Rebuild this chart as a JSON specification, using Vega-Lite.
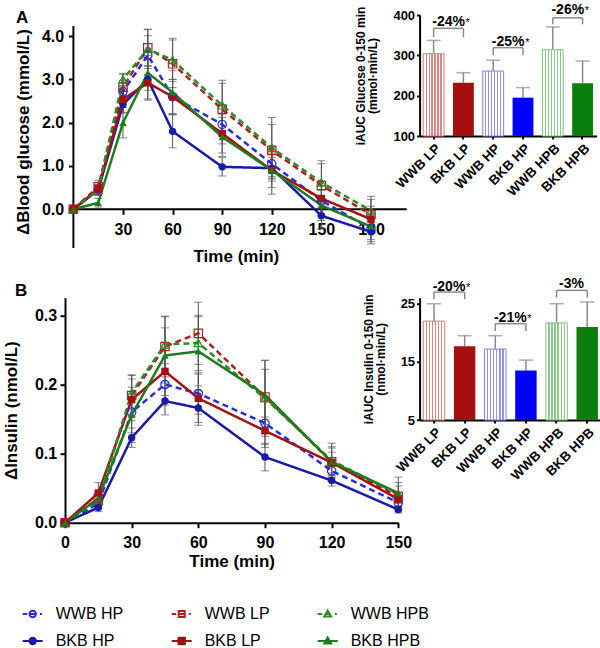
{
"$schema":"https://vega.github.io/schema/vega-lite/v6.json",
"padding":{"left":2,"top":2,"right":0,"bottom":0},
"datasets":{
"glucose":[
{"g":"WWB HP","t":0,"y":0,"lo":null,"hi":null},{"g":"WWB HP","t":15,"y":0.45,"lo":0.33,"hi":0.57},{"g":"WWB HP","t":30,"y":2.72,"lo":2.47,"hi":2.97},{"g":"WWB HP","t":45,"y":3.56,"lo":3.11,"hi":4.01},{"g":"WWB HP","t":60,"y":2.6,"lo":2.2,"hi":3.0},{"g":"WWB HP","t":90,"y":1.96,"lo":1.51,"hi":2.41},{"g":"WWB HP","t":120,"y":1.05,"lo":0.65,"hi":1.45},{"g":"WWB HP","t":150,"y":0.2,"lo":-0.15,"hi":0.55},{"g":"WWB HP","t":180,"y":-0.45,"lo":-0.75,"hi":-0.15},
{"g":"BKB HP","t":0,"y":0,"lo":null,"hi":null},{"g":"BKB HP","t":15,"y":0.45,"lo":0.35,"hi":0.55},{"g":"BKB HP","t":30,"y":2.42,"lo":2.22,"hi":2.62},{"g":"BKB HP","t":45,"y":3.0,"lo":2.55,"hi":3.45},{"g":"BKB HP","t":60,"y":1.8,"lo":1.42,"hi":2.18},{"g":"BKB HP","t":90,"y":0.98,"lo":0.77,"hi":1.19},{"g":"BKB HP","t":120,"y":0.95,"lo":0.7,"hi":1.2},{"g":"BKB HP","t":150,"y":-0.15,"lo":-0.45,"hi":0.15},{"g":"BKB HP","t":180,"y":-0.52,"lo":-0.8,"hi":-0.24},
{"g":"WWB LP","t":0,"y":0,"lo":null,"hi":null},{"g":"WWB LP","t":15,"y":0.52,"lo":0.37,"hi":0.67},{"g":"WWB LP","t":30,"y":2.82,"lo":2.52,"hi":3.12},{"g":"WWB LP","t":45,"y":3.73,"lo":3.3,"hi":4.16},{"g":"WWB LP","t":60,"y":3.36,"lo":2.81,"hi":3.91},{"g":"WWB LP","t":90,"y":2.31,"lo":1.71,"hi":2.91},{"g":"WWB LP","t":120,"y":1.36,"lo":0.76,"hi":1.96},{"g":"WWB LP","t":150,"y":0.55,"lo":0.05,"hi":1.05},{"g":"WWB LP","t":180,"y":-0.12,"lo":-0.47,"hi":0.23},
{"g":"BKB LP","t":0,"y":0,"lo":null,"hi":null},{"g":"BKB LP","t":15,"y":0.47,"lo":0.32,"hi":0.62},{"g":"BKB LP","t":30,"y":2.54,"lo":2.24,"hi":2.84},{"g":"BKB LP","t":45,"y":2.92,"lo":2.52,"hi":3.32},{"g":"BKB LP","t":60,"y":2.6,"lo":2.2,"hi":3.0},{"g":"BKB LP","t":90,"y":1.75,"lo":1.3,"hi":2.2},{"g":"BKB LP","t":120,"y":0.9,"lo":0.35,"hi":1.45},{"g":"BKB LP","t":150,"y":0.25,"lo":-0.15,"hi":0.65},{"g":"BKB LP","t":180,"y":-0.23,"lo":-0.53,"hi":0.07},
{"g":"WWB HPB","t":0,"y":0,"lo":null,"hi":null},{"g":"WWB HPB","t":15,"y":0.45,"lo":0.33,"hi":0.57},{"g":"WWB HPB","t":30,"y":3.0,"lo":2.86,"hi":3.14},{"g":"WWB HPB","t":45,"y":3.7,"lo":3.25,"hi":4.15},{"g":"WWB HPB","t":60,"y":3.45,"lo":2.95,"hi":3.95},{"g":"WWB HPB","t":90,"y":2.4,"lo":1.82,"hi":2.98},{"g":"WWB HPB","t":120,"y":1.42,"lo":0.72,"hi":2.12},{"g":"WWB HPB","t":150,"y":0.62,"lo":0.12,"hi":1.12},{"g":"WWB HPB","t":180,"y":-0.03,"lo":-0.36,"hi":0.3},
{"g":"BKB HPB","t":0,"y":0,"lo":null,"hi":null},{"g":"BKB HPB","t":15,"y":0.15,"lo":0.05,"hi":0.25},{"g":"BKB HPB","t":30,"y":2.0,"lo":1.65,"hi":2.35},{"g":"BKB HPB","t":45,"y":3.15,"lo":2.75,"hi":3.55},{"g":"BKB HPB","t":60,"y":2.7,"lo":2.2,"hi":3.2},{"g":"BKB HPB","t":90,"y":1.67,"lo":1.22,"hi":2.12},{"g":"BKB HPB","t":120,"y":0.9,"lo":0.5,"hi":1.3},{"g":"BKB HPB","t":150,"y":0.09,"lo":-0.26,"hi":0.44},{"g":"BKB HPB","t":180,"y":-0.4,"lo":-0.7,"hi":-0.1}
],
"insulin":[
{"g":"WWB HP","t":0,"y":0,"lo":null,"hi":null},{"g":"WWB HP","t":15,"y":0.028,"lo":0.02,"hi":0.036},{"g":"WWB HP","t":30,"y":0.16,"lo":0.13,"hi":0.19},{"g":"WWB HP","t":45,"y":0.2,"lo":0.17,"hi":0.23},{"g":"WWB HP","t":60,"y":0.187,"lo":0.157,"hi":0.217},{"g":"WWB HP","t":90,"y":0.144,"lo":0.109,"hi":0.179},{"g":"WWB HP","t":120,"y":0.075,"lo":0.06,"hi":0.09},{"g":"WWB HP","t":150,"y":0.029,"lo":0.019,"hi":0.039},
{"g":"BKB HP","t":0,"y":0,"lo":null,"hi":null},{"g":"BKB HP","t":15,"y":0.022,"lo":0.016,"hi":0.028},{"g":"BKB HP","t":30,"y":0.123,"lo":0.109,"hi":0.137},{"g":"BKB HP","t":45,"y":0.176,"lo":0.156,"hi":0.196},{"g":"BKB HP","t":60,"y":0.166,"lo":0.141,"hi":0.191},{"g":"BKB HP","t":90,"y":0.095,"lo":0.075,"hi":0.115},{"g":"BKB HP","t":120,"y":0.061,"lo":0.053,"hi":0.069},{"g":"BKB HP","t":150,"y":0.019,"lo":0.014,"hi":0.024},
{"g":"WWB LP","t":0,"y":0,"lo":null,"hi":null},{"g":"WWB LP","t":15,"y":0.035,"lo":0.025,"hi":0.045},{"g":"WWB LP","t":30,"y":0.184,"lo":0.154,"hi":0.214},{"g":"WWB LP","t":45,"y":0.255,"lo":0.211,"hi":0.299},{"g":"WWB LP","t":60,"y":0.274,"lo":0.229,"hi":0.319},{"g":"WWB LP","t":90,"y":0.182,"lo":0.142,"hi":0.222},{"g":"WWB LP","t":120,"y":0.088,"lo":0.066,"hi":0.11},{"g":"WWB LP","t":150,"y":0.038,"lo":0.023,"hi":0.053},
{"g":"BKB LP","t":0,"y":0,"lo":null,"hi":null},{"g":"BKB LP","t":15,"y":0.043,"lo":0.028,"hi":0.058},{"g":"BKB LP","t":30,"y":0.178,"lo":0.148,"hi":0.208},{"g":"BKB LP","t":45,"y":0.219,"lo":0.184,"hi":0.254},{"g":"BKB LP","t":60,"y":0.18,"lo":0.145,"hi":0.215},{"g":"BKB LP","t":90,"y":0.133,"lo":0.113,"hi":0.153},{"g":"BKB LP","t":120,"y":0.087,"lo":0.072,"hi":0.102},{"g":"BKB LP","t":150,"y":0.034,"lo":0.024,"hi":0.044},
{"g":"WWB HPB","t":0,"y":0,"lo":null,"hi":null},{"g":"WWB HPB","t":15,"y":0.032,"lo":0.022,"hi":0.042},{"g":"WWB HPB","t":30,"y":0.188,"lo":0.163,"hi":0.213},{"g":"WWB HPB","t":45,"y":0.258,"lo":0.218,"hi":0.298},{"g":"WWB HPB","t":60,"y":0.26,"lo":0.22,"hi":0.3},{"g":"WWB HPB","t":90,"y":0.18,"lo":0.125,"hi":0.235},{"g":"WWB HPB","t":120,"y":0.09,"lo":0.065,"hi":0.115},{"g":"WWB HPB","t":150,"y":0.041,"lo":0.016,"hi":0.066},
{"g":"BKB HPB","t":0,"y":0,"lo":null,"hi":null},{"g":"BKB HPB","t":15,"y":0.035,"lo":0.025,"hi":0.045},{"g":"BKB HPB","t":30,"y":0.156,"lo":0.116,"hi":0.196},{"g":"BKB HPB","t":45,"y":0.242,"lo":0.202,"hi":0.282},{"g":"BKB HPB","t":60,"y":0.248,"lo":0.198,"hi":0.298},{"g":"BKB HPB","t":90,"y":0.185,"lo":0.135,"hi":0.235},{"g":"BKB HPB","t":120,"y":0.088,"lo":0.068,"hi":0.108},{"g":"BKB HPB","t":150,"y":0.043,"lo":0.028,"hi":0.058}
],
"barsA":[{"g":"WWB LP","v":304,"hi":337},{"g":"BKB LP","v":232,"hi":257},{"g":"WWB HP","v":261,"hi":288},{"g":"BKB HP","v":195,"hi":220},{"g":"WWB HPB","v":314,"hi":370},{"g":"BKB HPB","v":231,"hi":286}],
"barsB":[{"g":"WWB LP","v":22.0,"hi":25.0},{"g":"BKB LP","v":17.7,"hi":19.5},{"g":"WWB HP","v":17.2,"hi":19.5},{"g":"BKB HP","v":13.5,"hi":15.3},{"g":"WWB HPB","v":21.7,"hi":25.0},{"g":"BKB HPB","v":21.0,"hi":25.3}],
"bracketsA":[{"a":"WWB LP","b":"BKB LP","top":367,"leg":345,"ty":372,"lab":"-24%","star":"*"},{"a":"WWB HP","b":"BKB HP","top":319,"leg":300,"ty":323,"lab":"-25%","star":"*"},{"a":"WWB HPB","b":"BKB HPB","top":393,"leg":377,"ty":403,"lab":"-26%","star":"*"}],
"bracketsB":[{"a":"WWB LP","b":"BKB LP","top":27.0,"leg":25.76,"ty":27.25,"lab":"-20%","star":"*"},{"a":"WWB HP","b":"BKB HP","top":21.56,"leg":20.3,"ty":21.85,"lab":"-21%","star":"*"},{"a":"WWB HPB","b":"BKB HPB","top":27.3,"leg":26.03,"ty":27.75,"lab":"-3%","star":""}]
},
"columns":2,
"bounds":"flush",
"align":{"row":"each","column":"none"},
"spacing":{"row":49.7,"column":12.6},
"resolve":{"scale":{"color":"independent","shape":"independent","fill":"independent","stroke":"independent","strokeDash":"independent"}},
"concat":[
{"width":341.7,"height":233,
"title":{"text":"A","anchor":"start","frame":"group","dx":-49,"offset":-24.5,"fontSize":17,"fontWeight":"bold","baseline":"alphabetic"},
"data":{"name":"glucose"},
"layer":[
{"data":{"values":[{}]},"mark":{"type":"rule","color":"black","strokeWidth":2},"encoding":{"x":{"datum":0,"type":"quantitative"},"y":{"datum":-0.894,"type":"quantitative"},"y2":{"datum":4.23}}},
{"data":{"values":[{}]},"mark":{"type":"rule","color":"black","strokeWidth":2},"encoding":{"x":{"datum":0,"type":"quantitative"},"x2":{"datum":201.6},"y":{"datum":0,"type":"quantitative"}}},
{"mark":{"type":"errorbar","ticks":{"size":8,"thickness":1,"color":"#555555"},"rule":{"strokeWidth":1,"color":"#555555"}},
"encoding":{"x":{"field":"t","type":"quantitative","scale":{"domain":[-5.08,201.6],"nice":false,"zero":false},"axis":{"values":[30,60,90,120,150,180],"offset":-38.7,"domain":false,"labelFontSize":16,"titleFontSize":17,"tickSize":5,"labelPadding":7,"titlePadding":11,"labelFlush":false},"title":"Time (min)"},
"y":{"field":"lo","type":"quantitative","scale":{"domain":[-0.894,4.487],"nice":false,"zero":false},"axis":{"values":[0,1,2,3,4],"format":".1f","domain":false,"offset":-8.4,"labelFontSize":16,"titleFontSize":17,"tickSize":5,"labelPadding":4.7,"titlePadding":9},"title":"ΔBlood glucose (mmol/L)"},
"y2":{"field":"hi"}}},
{"mark":{"type":"line","strokeWidth":2.5},
"encoding":{"x":{"field":"t","type":"quantitative","title":"Time (min)"},"y":{"field":"y","type":"quantitative","title":"ΔBlood glucose (mmol/L)"},
"color":{"field":"g","type":"nominal","scale":{"domain":["WWB HP","BKB HP","WWB LP","BKB LP","WWB HPB","BKB HPB"],"range":["#2b2bd6","#1a1aa6","#b01e1e","#a31212","#2a8c2a","#1d7d1d"]},"legend":null},
"strokeDash":{"field":"g","type":"nominal","scale":{"domain":["WWB HP","BKB HP","WWB LP","BKB LP","WWB HPB","BKB HPB"],"range":[[6,4],[1,0],[6,4],[1,0],[6,4],[1,0]]},"legend":null}}},
{"transform":[{"filter":"indexof(datum.g,'WWB')==0"}],"mark":{"type":"point","filled":false,"strokeWidth":1.2,"size":70,"opacity":1},
"encoding":{"x":{"field":"t","type":"quantitative","title":"Time (min)"},"y":{"field":"y","type":"quantitative","title":"ΔBlood glucose (mmol/L)"},
"color":{"field":"g","type":"nominal","legend":null},
"shape":{"field":"g","type":"nominal","scale":{"domain":["WWB HP","BKB HP","WWB LP","BKB LP","WWB HPB","BKB HPB"],"range":["circle","circle","square","square","triangle-up","triangle-up"]},"legend":null}}},
{"transform":[{"filter":"indexof(datum.g,'BKB')==0"}],"mark":{"type":"point","filled":true,"size":55,"opacity":1},
"encoding":{"x":{"field":"t","type":"quantitative","title":"Time (min)"},"y":{"field":"y","type":"quantitative","title":"ΔBlood glucose (mmol/L)"},
"color":{"field":"g","type":"nominal","legend":null},
"shape":{"field":"g","type":"nominal","legend":null}}}
]},
{"width":177,"height":121,
"layer":[
{"data":{"name":"barsA"},"mark":{"type":"rule","color":"#8a8a8a","strokeWidth":1.5},
"encoding":{"x":{"field":"g","type":"nominal","scale":{"domain":["WWB LP","BKB LP","WWB HP","BKB HP","WWB HPB","BKB HPB"],"paddingInner":0.3,"paddingOuter":0.12},"axis":{"labelAngle":-45,"labelFontSize":13.5,"tickSize":3,"labelPadding":2},"title":null},
"y":{"field":"v","type":"quantitative","scale":{"domain":[100,400],"nice":false,"zero":false},"axis":{"values":[100,200,300,400],"labelFontSize":13,"titleFontSize":12,"tickSize":3,"labelPadding":2,"titlePadding":13,"titleLineHeight":12},"title":["iAUC Glucose 0-150 min","(mmol·min/L)"]},
"y2":{"field":"hi"}}},
{"data":{"name":"barsA"},"mark":{"type":"tick","color":"#8a8a8a","thickness":1.5,"size":14},
"encoding":{"x":{"field":"g","type":"nominal","title":null},"y":{"field":"hi","type":"quantitative","title":["iAUC Glucose 0-150 min","(mmol·min/L)"]}}},
{"data":{"name":"barsA"},"transform":[{"filter":"indexof(datum.g,'BKB')==0"}],"mark":{"type":"bar"},
"encoding":{"x":{"field":"g","type":"nominal","title":null},"y":{"field":"v","type":"quantitative","title":["iAUC Glucose 0-150 min","(mmol·min/L)"]},"y2":{"datum":100},
"fill":{"field":"g","type":"nominal","scale":{"domain":["BKB LP","BKB HP","BKB HPB"],"range":["#a50f0f","#0000ff","#0b7f0b"]},"legend":null}}},
{"data":{"name":"barsA"},"transform":[{"filter":"datum.g=='WWB LP'"}],"mark":{"type":"bar","stroke":"#d87878","strokeWidth":1,"fill":{"gradient":"linear","x1":0,"y1":0,"x2":1,"y2":0,"stops":[{"offset":0,"color":"#ffffff"},{"offset":0.113,"color":"#ffffff"},{"offset":0.113,"color":"#d98888"},{"offset":0.173,"color":"#d98888"},{"offset":0.173,"color":"#ffffff"},{"offset":0.256,"color":"#ffffff"},{"offset":0.256,"color":"#d98888"},{"offset":0.316,"color":"#d98888"},{"offset":0.316,"color":"#ffffff"},{"offset":0.399,"color":"#ffffff"},{"offset":0.399,"color":"#d98888"},{"offset":0.459,"color":"#d98888"},{"offset":0.459,"color":"#ffffff"},{"offset":0.541,"color":"#ffffff"},{"offset":0.541,"color":"#d98888"},{"offset":0.601,"color":"#d98888"},{"offset":0.601,"color":"#ffffff"},{"offset":0.684,"color":"#ffffff"},{"offset":0.684,"color":"#d98888"},{"offset":0.744,"color":"#d98888"},{"offset":0.744,"color":"#ffffff"},{"offset":0.827,"color":"#ffffff"},{"offset":0.827,"color":"#d98888"},{"offset":0.887,"color":"#d98888"},{"offset":0.887,"color":"#ffffff"},{"offset":1,"color":"#ffffff"}]}},
"encoding":{"x":{"field":"g","type":"nominal","title":null},"y":{"field":"v","type":"quantitative","title":["iAUC Glucose 0-150 min","(mmol·min/L)"]},"y2":{"datum":100}}},
{"data":{"name":"barsA"},"transform":[{"filter":"datum.g=='WWB HP'"}],"mark":{"type":"bar","stroke":"#8282e8","strokeWidth":1,"fill":{"gradient":"linear","x1":0,"y1":0,"x2":1,"y2":0,"stops":[{"offset":0,"color":"#ffffff"},{"offset":0.113,"color":"#ffffff"},{"offset":0.113,"color":"#9494ee"},{"offset":0.173,"color":"#9494ee"},{"offset":0.173,"color":"#ffffff"},{"offset":0.256,"color":"#ffffff"},{"offset":0.256,"color":"#9494ee"},{"offset":0.316,"color":"#9494ee"},{"offset":0.316,"color":"#ffffff"},{"offset":0.399,"color":"#ffffff"},{"offset":0.399,"color":"#9494ee"},{"offset":0.459,"color":"#9494ee"},{"offset":0.459,"color":"#ffffff"},{"offset":0.541,"color":"#ffffff"},{"offset":0.541,"color":"#9494ee"},{"offset":0.601,"color":"#9494ee"},{"offset":0.601,"color":"#ffffff"},{"offset":0.684,"color":"#ffffff"},{"offset":0.684,"color":"#9494ee"},{"offset":0.744,"color":"#9494ee"},{"offset":0.744,"color":"#ffffff"},{"offset":0.827,"color":"#ffffff"},{"offset":0.827,"color":"#9494ee"},{"offset":0.887,"color":"#9494ee"},{"offset":0.887,"color":"#ffffff"},{"offset":1,"color":"#ffffff"}]}},
"encoding":{"x":{"field":"g","type":"nominal","title":null},"y":{"field":"v","type":"quantitative","title":["iAUC Glucose 0-150 min","(mmol·min/L)"]},"y2":{"datum":100}}},
{"data":{"name":"barsA"},"transform":[{"filter":"datum.g=='WWB HPB'"}],"mark":{"type":"bar","stroke":"#80c080","strokeWidth":1,"fill":{"gradient":"linear","x1":0,"y1":0,"x2":1,"y2":0,"stops":[{"offset":0,"color":"#ffffff"},{"offset":0.113,"color":"#ffffff"},{"offset":0.113,"color":"#8fc78f"},{"offset":0.173,"color":"#8fc78f"},{"offset":0.173,"color":"#ffffff"},{"offset":0.256,"color":"#ffffff"},{"offset":0.256,"color":"#8fc78f"},{"offset":0.316,"color":"#8fc78f"},{"offset":0.316,"color":"#ffffff"},{"offset":0.399,"color":"#ffffff"},{"offset":0.399,"color":"#8fc78f"},{"offset":0.459,"color":"#8fc78f"},{"offset":0.459,"color":"#ffffff"},{"offset":0.541,"color":"#ffffff"},{"offset":0.541,"color":"#8fc78f"},{"offset":0.601,"color":"#8fc78f"},{"offset":0.601,"color":"#ffffff"},{"offset":0.684,"color":"#ffffff"},{"offset":0.684,"color":"#8fc78f"},{"offset":0.744,"color":"#8fc78f"},{"offset":0.744,"color":"#ffffff"},{"offset":0.827,"color":"#ffffff"},{"offset":0.827,"color":"#8fc78f"},{"offset":0.887,"color":"#8fc78f"},{"offset":0.887,"color":"#ffffff"},{"offset":1,"color":"#ffffff"}]}},
"encoding":{"x":{"field":"g","type":"nominal","title":null},"y":{"field":"v","type":"quantitative","title":["iAUC Glucose 0-150 min","(mmol·min/L)"]},"y2":{"datum":100}}},
{"data":{"name":"bracketsA"},"mark":{"type":"rule","color":"#8a8a8a","strokeWidth":1.5},
"encoding":{"x":{"field":"a","type":"nominal","title":null},"x2":{"field":"b"},"y":{"field":"top","type":"quantitative","title":["iAUC Glucose 0-150 min","(mmol·min/L)"]}}},
{"data":{"name":"bracketsA"},"mark":{"type":"rule","color":"#8a8a8a","strokeWidth":1.5},
"encoding":{"x":{"field":"a","type":"nominal","title":null},"y":{"field":"top","type":"quantitative","title":["iAUC Glucose 0-150 min","(mmol·min/L)"]},"y2":{"field":"leg"}}},
{"data":{"name":"bracketsA"},"mark":{"type":"rule","color":"#8a8a8a","strokeWidth":1.5},
"encoding":{"x":{"field":"b","type":"nominal","title":null},"y":{"field":"top","type":"quantitative","title":["iAUC Glucose 0-150 min","(mmol·min/L)"]},"y2":{"field":"leg"}}},
{"data":{"name":"bracketsA"},"mark":{"type":"text","fontSize":14,"fontWeight":"bold","align":"center","baseline":"alphabetic","dx":15,"color":"black"},
"encoding":{"x":{"field":"a","type":"nominal","title":null},"y":{"field":"ty","type":"quantitative","title":["iAUC Glucose 0-150 min","(mmol·min/L)"]},"text":{"field":"lab"}}},
{"data":{"name":"bracketsA"},"mark":{"type":"text","fontSize":11,"align":"left","baseline":"alphabetic","dx":32,"color":"black"},
"encoding":{"x":{"field":"a","type":"nominal","title":null},"y":{"field":"ty","type":"quantitative","title":["iAUC Glucose 0-150 min","(mmol·min/L)"]},"text":{"field":"star"}}}
]},
{"width":333.3,"height":225,
"title":{"text":"B","anchor":"start","frame":"group","dx":-50,"offset":-15.6,"fontSize":17,"fontWeight":"bold","baseline":"alphabetic"},
"data":{"name":"insulin"},
"encoding":{"x":{"field":"t","type":"quantitative","title":"Time (min)"},"y":{"field":"y","type":"quantitative","title":"ΔInsulin (nmol/L)"},
"color":{"field":"g","type":"nominal","scale":{"domain":["WWB HP","BKB HP","WWB LP","BKB LP","WWB HPB","BKB HPB"],"range":["#2b2bd6","#1a1aa6","#b01e1e","#a31212","#2a8c2a","#1d7d1d"]},"legend":null}},
"layer":[
{"mark":{"type":"errorbar","ticks":{"size":8,"thickness":1,"color":"#555555"},"rule":{"strokeWidth":1,"color":"#555555"}},
"encoding":{"x":{"field":"t","type":"quantitative","scale":{"domain":[0,150],"nice":false,"zero":false},"axis":{"values":[0,30,60,90,120,150],"labelFontSize":16,"titleFontSize":17,"tickSize":5,"labelPadding":7,"titlePadding":3,"labelFlush":false},"title":"Time (min)"},
"y":{"field":"lo","type":"quantitative","scale":{"domain":[0,0.3256],"nice":false,"zero":false},"axis":{"values":[0,0.1,0.2,0.3],"format":".1f","labelFontSize":16,"titleFontSize":17,"tickSize":5,"labelPadding":3.3,"titlePadding":13.7},"title":"ΔInsulin (nmol/L)"},
"y2":{"field":"hi"},"color":null}},
{"mark":{"type":"line","strokeWidth":2.5},
"encoding":{"strokeDash":{"field":"g","type":"nominal","scale":{"domain":["WWB HP","BKB HP","WWB LP","BKB LP","WWB HPB","BKB HPB"],"range":[[6,4],[1,0],[6,4],[1,0],[6,4],[1,0]]},"legend":null}}},
{"transform":[{"filter":"datum.g=='WWB HP'"}],"mark":{"type":"point","shape":"circle","filled":false,"strokeWidth":1.2,"size":70,"opacity":1}},
{"transform":[{"filter":"datum.g=='WWB LP'"}],"mark":{"type":"point","shape":"square","filled":false,"strokeWidth":1.2,"size":70,"opacity":1}},
{"transform":[{"filter":"datum.g=='WWB HPB'"}],"mark":{"type":"point","shape":"triangle-up","filled":false,"strokeWidth":1.2,"size":70,"opacity":1}},
{"transform":[{"filter":"datum.g=='BKB HP'"}],"mark":{"type":"point","shape":"circle","filled":true,"size":55,"opacity":1}},
{"transform":[{"filter":"datum.g=='BKB LP'"}],"mark":{"type":"point","shape":"square","filled":true,"size":55,"opacity":1}},
{"transform":[{"filter":"datum.g=='BKB HPB'"}],"mark":{"type":"point","shape":"triangle-up","filled":true,"size":55,"opacity":1}},
{"data":{"values":[]},"mark":{"type":"point","opacity":1,"strokeWidth":2},
"encoding":{"x":null,"y":null,"color":null,
"shape":{"field":"g","type":"nominal","scale":{"domain":["WWB HP","WWB LP","WWB HPB","BKB HP","BKB LP","BKB HPB"],"range":["M-1,0L-0.55,0M-0.32,0A0.32,0.32,0,1,1,0.32,0A0.32,0.32,0,1,1,-0.32,0ZM-0.32,0L0.32,0M0.72,0L0.92,0","M-1,0L-0.55,0M-0.3,-0.3L0.3,-0.3L0.3,0.3L-0.3,0.3ZM-0.3,0L0.3,0M0.72,0L0.92,0","M-1,0L-0.55,0M0,-0.34L0.34,0.24L-0.34,0.24ZM-0.2,0L0.2,0M0.72,0L0.92,0","M-1,0L1,0M-0.32,0A0.32,0.32,0,1,1,0.32,0A0.32,0.32,0,1,1,-0.32,0Z","M-1,0L1,0M-0.32,-0.32L0.32,-0.32L0.32,0.32L-0.32,0.32Z","M-1,0L1,0M0,-0.34L0.34,0.24L-0.34,0.24Z"]},
"legend":{"title":null,"orient":"none","legendX":-43.3,"legendY":305.3,"columns":3,"direction":"horizontal","symbolSize":400,"symbolStrokeWidth":2,"labelFontSize":16,"labelFontWeight":"normal","labelColor":"black","labelOffset":12,"columnPadding":44,"rowPadding":8,"padding":0,"labelLimit":300}},
"stroke":{"field":"g","type":"nominal","scale":{"domain":["WWB HP","WWB LP","WWB HPB","BKB HP","BKB LP","BKB HPB"],"range":["#2b2bd6","#b01e1e","#2a8c2a","#1a1aa6","#a31212","#1d7d1d"]},
"legend":{"title":null,"orient":"none","legendX":-43.3,"legendY":305.3,"columns":3,"direction":"horizontal","symbolSize":400,"symbolStrokeWidth":2,"labelFontSize":16,"labelFontWeight":"normal","labelColor":"black","labelOffset":12,"columnPadding":44,"rowPadding":8,"padding":0,"labelLimit":300}},
"fill":{"field":"g","type":"nominal","scale":{"domain":["WWB HP","WWB LP","WWB HPB","BKB HP","BKB LP","BKB HPB"],"range":["transparent","transparent","transparent","#1a1aa6","#a31212","#1d7d1d"]},
"legend":{"title":null,"orient":"none","legendX":-43.3,"legendY":305.3,"columns":3,"direction":"horizontal","symbolSize":400,"symbolStrokeWidth":2,"labelFontSize":16,"labelFontWeight":"normal","labelColor":"black","labelOffset":12,"columnPadding":44,"rowPadding":8,"padding":0,"labelLimit":300}}
}}
]},
{"width":182,"height":122.3,
"layer":[
{"data":{"name":"barsB"},"mark":{"type":"rule","color":"#8a8a8a","strokeWidth":1.5},
"encoding":{"x":{"field":"g","type":"nominal","scale":{"domain":["WWB LP","BKB LP","WWB HP","BKB HP","WWB HPB","BKB HPB"],"paddingInner":0.3,"paddingOuter":0.12},"axis":{"labelAngle":-45,"labelFontSize":13.5,"tickSize":3,"labelPadding":2},"title":null},
"y":{"field":"v","type":"quantitative","scale":{"domain":[5,26.03],"nice":false,"zero":false},"axis":{"values":[5,10,15,20,25],"labelFontSize":13,"titleFontSize":12,"tickSize":3,"labelPadding":2,"titlePadding":13,"titleLineHeight":12},"title":["iAUC Insulin 0-150 min","(nmol·min/L)"]},
"y2":{"field":"hi"}}},
{"data":{"name":"barsB"},"mark":{"type":"tick","color":"#8a8a8a","thickness":1.5,"size":14},
"encoding":{"x":{"field":"g","type":"nominal","title":null},"y":{"field":"hi","type":"quantitative","title":["iAUC Insulin 0-150 min","(nmol·min/L)"]}}},
{"data":{"name":"barsB"},"transform":[{"filter":"indexof(datum.g,'BKB')==0"}],"mark":{"type":"bar"},
"encoding":{"x":{"field":"g","type":"nominal","title":null},"y":{"field":"v","type":"quantitative","title":["iAUC Insulin 0-150 min","(nmol·min/L)"]},"y2":{"datum":5},
"fill":{"field":"g","type":"nominal","scale":{"domain":["BKB LP","BKB HP","BKB HPB"],"range":["#a50f0f","#0000ff","#0b7f0b"]},"legend":null}}},
{"data":{"name":"barsB"},"transform":[{"filter":"datum.g=='WWB LP'"}],"mark":{"type":"bar","stroke":"#d87878","strokeWidth":1,"fill":{"gradient":"linear","x1":0,"y1":0,"x2":1,"y2":0,"stops":[{"offset":0,"color":"#ffffff"},{"offset":0.113,"color":"#ffffff"},{"offset":0.113,"color":"#d98888"},{"offset":0.173,"color":"#d98888"},{"offset":0.173,"color":"#ffffff"},{"offset":0.256,"color":"#ffffff"},{"offset":0.256,"color":"#d98888"},{"offset":0.316,"color":"#d98888"},{"offset":0.316,"color":"#ffffff"},{"offset":0.399,"color":"#ffffff"},{"offset":0.399,"color":"#d98888"},{"offset":0.459,"color":"#d98888"},{"offset":0.459,"color":"#ffffff"},{"offset":0.541,"color":"#ffffff"},{"offset":0.541,"color":"#d98888"},{"offset":0.601,"color":"#d98888"},{"offset":0.601,"color":"#ffffff"},{"offset":0.684,"color":"#ffffff"},{"offset":0.684,"color":"#d98888"},{"offset":0.744,"color":"#d98888"},{"offset":0.744,"color":"#ffffff"},{"offset":0.827,"color":"#ffffff"},{"offset":0.827,"color":"#d98888"},{"offset":0.887,"color":"#d98888"},{"offset":0.887,"color":"#ffffff"},{"offset":1,"color":"#ffffff"}]}},
"encoding":{"x":{"field":"g","type":"nominal","title":null},"y":{"field":"v","type":"quantitative","title":["iAUC Insulin 0-150 min","(nmol·min/L)"]},"y2":{"datum":5}}},
{"data":{"name":"barsB"},"transform":[{"filter":"datum.g=='WWB HP'"}],"mark":{"type":"bar","stroke":"#8282e8","strokeWidth":1,"fill":{"gradient":"linear","x1":0,"y1":0,"x2":1,"y2":0,"stops":[{"offset":0,"color":"#ffffff"},{"offset":0.113,"color":"#ffffff"},{"offset":0.113,"color":"#9494ee"},{"offset":0.173,"color":"#9494ee"},{"offset":0.173,"color":"#ffffff"},{"offset":0.256,"color":"#ffffff"},{"offset":0.256,"color":"#9494ee"},{"offset":0.316,"color":"#9494ee"},{"offset":0.316,"color":"#ffffff"},{"offset":0.399,"color":"#ffffff"},{"offset":0.399,"color":"#9494ee"},{"offset":0.459,"color":"#9494ee"},{"offset":0.459,"color":"#ffffff"},{"offset":0.541,"color":"#ffffff"},{"offset":0.541,"color":"#9494ee"},{"offset":0.601,"color":"#9494ee"},{"offset":0.601,"color":"#ffffff"},{"offset":0.684,"color":"#ffffff"},{"offset":0.684,"color":"#9494ee"},{"offset":0.744,"color":"#9494ee"},{"offset":0.744,"color":"#ffffff"},{"offset":0.827,"color":"#ffffff"},{"offset":0.827,"color":"#9494ee"},{"offset":0.887,"color":"#9494ee"},{"offset":0.887,"color":"#ffffff"},{"offset":1,"color":"#ffffff"}]}},
"encoding":{"x":{"field":"g","type":"nominal","title":null},"y":{"field":"v","type":"quantitative","title":["iAUC Insulin 0-150 min","(nmol·min/L)"]},"y2":{"datum":5}}},
{"data":{"name":"barsB"},"transform":[{"filter":"datum.g=='WWB HPB'"}],"mark":{"type":"bar","stroke":"#80c080","strokeWidth":1,"fill":{"gradient":"linear","x1":0,"y1":0,"x2":1,"y2":0,"stops":[{"offset":0,"color":"#ffffff"},{"offset":0.113,"color":"#ffffff"},{"offset":0.113,"color":"#8fc78f"},{"offset":0.173,"color":"#8fc78f"},{"offset":0.173,"color":"#ffffff"},{"offset":0.256,"color":"#ffffff"},{"offset":0.256,"color":"#8fc78f"},{"offset":0.316,"color":"#8fc78f"},{"offset":0.316,"color":"#ffffff"},{"offset":0.399,"color":"#ffffff"},{"offset":0.399,"color":"#8fc78f"},{"offset":0.459,"color":"#8fc78f"},{"offset":0.459,"color":"#ffffff"},{"offset":0.541,"color":"#ffffff"},{"offset":0.541,"color":"#8fc78f"},{"offset":0.601,"color":"#8fc78f"},{"offset":0.601,"color":"#ffffff"},{"offset":0.684,"color":"#ffffff"},{"offset":0.684,"color":"#8fc78f"},{"offset":0.744,"color":"#8fc78f"},{"offset":0.744,"color":"#ffffff"},{"offset":0.827,"color":"#ffffff"},{"offset":0.827,"color":"#8fc78f"},{"offset":0.887,"color":"#8fc78f"},{"offset":0.887,"color":"#ffffff"},{"offset":1,"color":"#ffffff"}]}},
"encoding":{"x":{"field":"g","type":"nominal","title":null},"y":{"field":"v","type":"quantitative","title":["iAUC Insulin 0-150 min","(nmol·min/L)"]},"y2":{"datum":5}}},
{"data":{"name":"bracketsB"},"mark":{"type":"rule","color":"#8a8a8a","strokeWidth":1.5},
"encoding":{"x":{"field":"a","type":"nominal","title":null},"x2":{"field":"b"},"y":{"field":"top","type":"quantitative","title":["iAUC Insulin 0-150 min","(nmol·min/L)"]}}},
{"data":{"name":"bracketsB"},"mark":{"type":"rule","color":"#8a8a8a","strokeWidth":1.5},
"encoding":{"x":{"field":"a","type":"nominal","title":null},"y":{"field":"top","type":"quantitative","title":["iAUC Insulin 0-150 min","(nmol·min/L)"]},"y2":{"field":"leg"}}},
{"data":{"name":"bracketsB"},"mark":{"type":"rule","color":"#8a8a8a","strokeWidth":1.5},
"encoding":{"x":{"field":"b","type":"nominal","title":null},"y":{"field":"top","type":"quantitative","title":["iAUC Insulin 0-150 min","(nmol·min/L)"]},"y2":{"field":"leg"}}},
{"data":{"name":"bracketsB"},"mark":{"type":"text","fontSize":14,"fontWeight":"bold","align":"center","baseline":"alphabetic","dx":15,"color":"black"},
"encoding":{"x":{"field":"a","type":"nominal","title":null},"y":{"field":"ty","type":"quantitative","title":["iAUC Insulin 0-150 min","(nmol·min/L)"]},"text":{"field":"lab"}}},
{"data":{"name":"bracketsB"},"mark":{"type":"text","fontSize":11,"align":"left","baseline":"alphabetic","dx":32,"color":"black"},
"encoding":{"x":{"field":"a","type":"nominal","title":null},"y":{"field":"ty","type":"quantitative","title":["iAUC Insulin 0-150 min","(nmol·min/L)"]},"text":{"field":"star"}}}
]}
],
"config":{
"font":"Liberation Sans",
"view":{"stroke":null},
"axis":{"labelFont":"Liberation Sans","titleFont":"Liberation Sans","labelFontWeight":"bold","titleFontWeight":"bold","domainColor":"#000000","tickColor":"#000000","labelColor":"#000000","titleColor":"#000000","domainWidth":2,"tickWidth":2,"grid":false},
"legend":{"labelFont":"Liberation Sans"},
"title":{"font":"Liberation Sans","color":"#000000"}
}
}
